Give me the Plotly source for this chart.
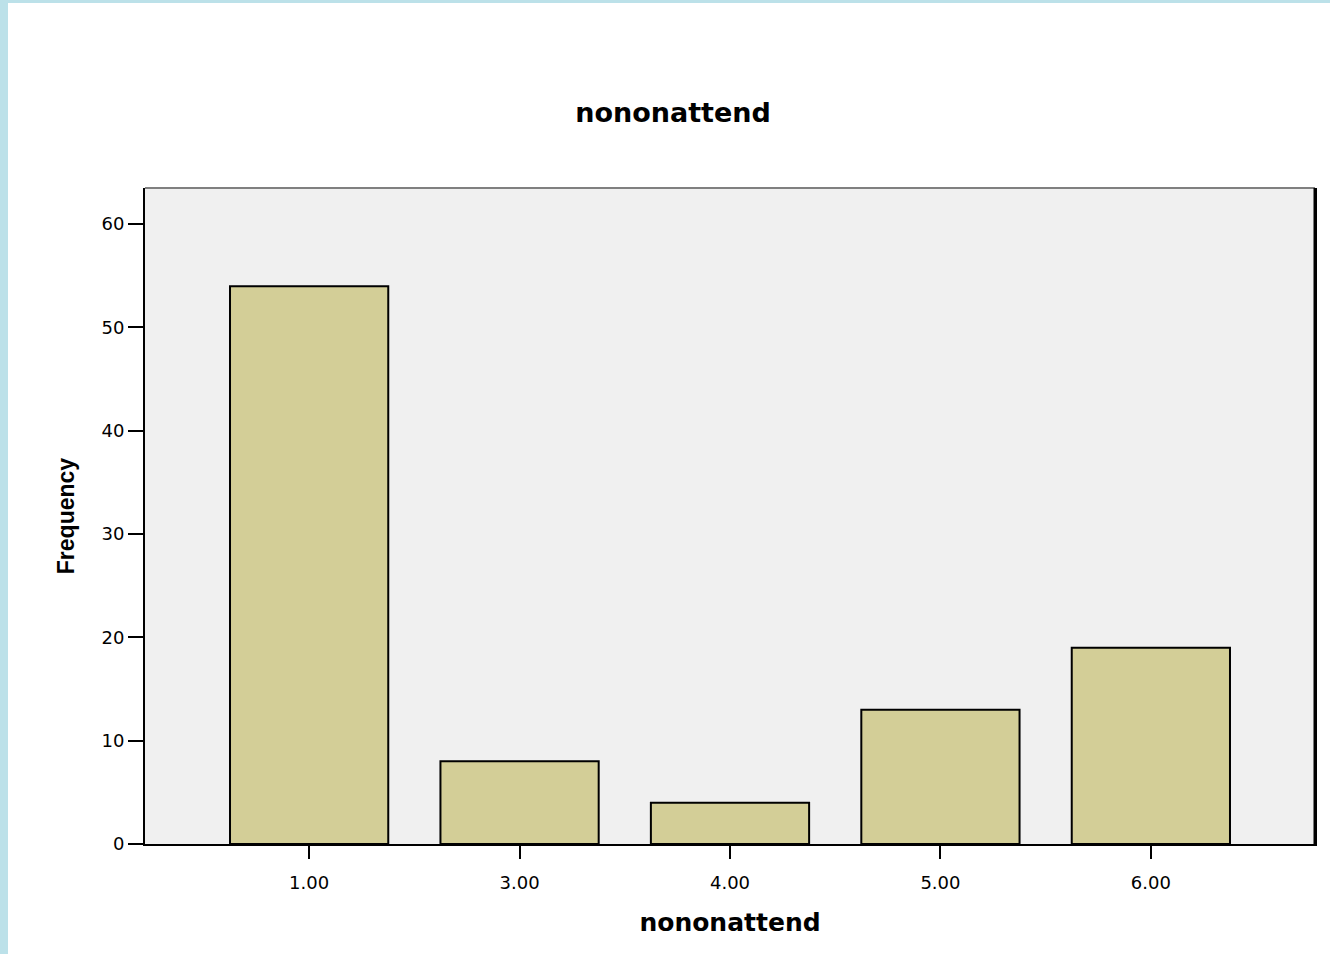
import plotly.graph_objects as go

categories = ["1.00", "3.00", "4.00", "5.00", "6.00"]
frequencies = [54, 8, 4, 13, 19]
y_ticks = [0, 10, 20, 30, 40, 50, 60]

W, H = 1330, 954
L, R, T, B = 145, 15, 188, 110
pw, ph = W - L - R, H - T - B

def px_x(p):
    return (p - L) / pw

def px_y(p):
    return (H - B - p) / ph

fig = go.Figure(go.Bar(
    x=categories, y=frequencies,
    marker=dict(color="#D3CE97", line=dict(color="black", width=2)),
    width=0.752,
))

fig.update_layout(
    width=W, height=H,
    margin=dict(l=L, r=R, t=T, b=B),
    paper_bgcolor="white",
    plot_bgcolor="#F0F0F0",
    showlegend=False,
    title=dict(text="<b>nononattend</b>", x=673 / W, xanchor="center",
               y=1 - 113 / H, yanchor="middle", xref="container", yref="container",
               font=dict(family="DejaVu Sans", size=27, color="black")),
    xaxis=dict(type="category", range=[-0.78, 4.78], showgrid=False,
               showline=True, linecolor="black", linewidth=2, mirror=False,
               ticks="outside", ticklen=13, tickwidth=2, tickcolor="black",
               ticklabelstandoff=8,
               tickfont=dict(family="DejaVu Sans", size=18, color="black"),
               title=dict(text="<b>nononattend</b>", standoff=22,
                          font=dict(family="DejaVu Sans", size=25, color="black"))),
    yaxis=dict(range=[0, 63.5], tickvals=y_ticks, showgrid=False, zeroline=False,
               showline=True, linecolor="black", linewidth=2, mirror=True,
               ticks="outside", ticklen=15, tickwidth=2, tickcolor="black",
               tickfont=dict(family="DejaVu Sans", size=18, color="black"),
               title=dict(text="<b>Frequency</b>", standoff=20,
                          font=dict(family="Liberation Sans", size=23, color="black"))),
    shapes=[
        dict(type="line", xref="paper", yref="paper", x0=0, x1=1, y0=1, y1=1,
             line=dict(color="#808080", width=2)),
        dict(type="line", xref="paper", yref="paper", x0=1, x1=1, y0=0, y1=1,
             line=dict(color="black", width=3)),
        dict(type="rect", xref="paper", yref="paper",
             x0=px_x(0), x1=px_x(8), y0=px_y(H), y1=px_y(0),
             fillcolor="#BCE1E9", line=dict(width=0), layer="below"),
        dict(type="rect", xref="paper", yref="paper",
             x0=px_x(0), x1=px_x(W), y0=px_y(3), y1=px_y(0),
             fillcolor="#BCE1E9", line=dict(width=0), layer="below"),
    ],
)

fig.write_html("out.html", config={"displayModeBar": False},
               post_script="document.body.style.margin='0';document.body.style.padding='0';")
